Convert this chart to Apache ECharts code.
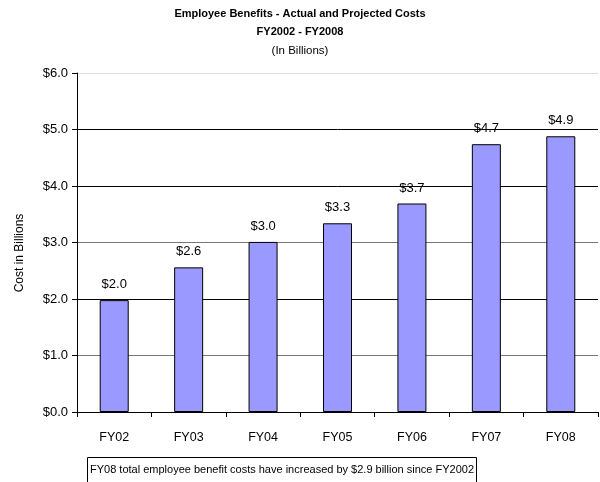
<!DOCTYPE html>
<html>
<head>
<meta charset="utf-8">
<script src="https://cdn.jsdelivr.net/npm/echarts@6/dist/echarts.min.js"></script>
<style>html,body{margin:0;padding:0;background:#fff;}#c{width:600px;height:482px;}</style>
</head>
<body>
<div id="c"></div>
<script>
const categories = ['FY02','FY03','FY04','FY05','FY06','FY07','FY08'];
const costs = [1.98, 2.56, 3.01, 3.34, 3.69, 4.74, 4.88];
const yTicks = [0, 1, 2, 3, 4, 5, 6];
const titleLines = ['Employee Benefits - Actual and Projected Costs', 'FY2002 - FY2008'];
const subtitle = '(In Billions)';
const yAxisName = 'Cost in Billions';
const footnote = 'FY08 total employee benefit costs have increased by $2.9 billion since FY2002';

const FONT = '"Liberation Sans", Arial, sans-serif';
const chart = echarts.init(document.getElementById('c'), null, {renderer: 'canvas'});
chart.setOption({
  animation: false,
  backgroundColor: '#fff',
  title: {
    text: titleLines.join('\n'),
    subtext: subtitle,
    left: 'center',
    top: 5,
    padding: 0,
    itemGap: 3,
    textStyle: {fontFamily: FONT, fontSize: 11, fontWeight: 'bold', color: '#000', lineHeight: 18},
    subtextStyle: {fontFamily: FONT, fontSize: 11.5, color: '#000', lineHeight: 14}
  },
  grid: {left: 77, right: 2, top: 73, bottom: 70, containLabel: false},
  xAxis: {
    type: 'category',
    data: categories,
    axisLine: {lineStyle: {color: '#000', width: 1}},
    axisTick: {show: true, alignWithLabel: false, length: 5, lineStyle: {color: '#000'}},
    axisLabel: {fontFamily: FONT, fontSize: 12.5, color: '#000', margin: 19}
  },
  yAxis: {
    type: 'value',
    min: yTicks[0],
    max: yTicks[yTicks.length - 1],
    interval: 1,
    axisLine: {show: true, lineStyle: {color: '#000'}},
    axisTick: {show: true, length: 5, lineStyle: {color: '#000'}},
    axisLabel: {fontFamily: FONT, fontSize: 13, color: '#000', margin: 9,
      formatter: v => '$' + v.toFixed(1)},
    splitLine: {show: true, lineStyle: {color: ['#000', '#777', '#000', '#777', '#000', '#000', '#ddd'], width: 1}}
  },
  series: [{
    type: 'bar',
    data: costs,
    barWidth: 29,
    itemStyle: {color: '#9999FF', borderColor: '#000', borderWidth: 1},
    label: {show: true, position: 'top', distance: 9, fontFamily: FONT, fontSize: 13, color: '#000',
      formatter: p => '$' + p.value.toFixed(1)}
  }],
  graphic: [
    {type: 'text', x: 20, y: 253, rotation: Math.PI / 2,
      style: {text: yAxisName, fontFamily: FONT, fontSize: 12, fill: '#000', align: 'center', verticalAlign: 'middle'}},
    {
      type: 'group',
      left: 87,
      top: 457,
      children: [
        {type: 'rect', shape: {x: 0, y: 0, width: 389, height: 40}, style: {fill: '#fff', stroke: '#000', lineWidth: 1}},
        {type: 'text', x: 194.5, y: 12.5, style: {text: footnote, fontFamily: FONT, fontSize: 11, fill: '#000', align: 'center', verticalAlign: 'middle'}}
      ]
    }
  ]
});
</script>
</body>
</html>
